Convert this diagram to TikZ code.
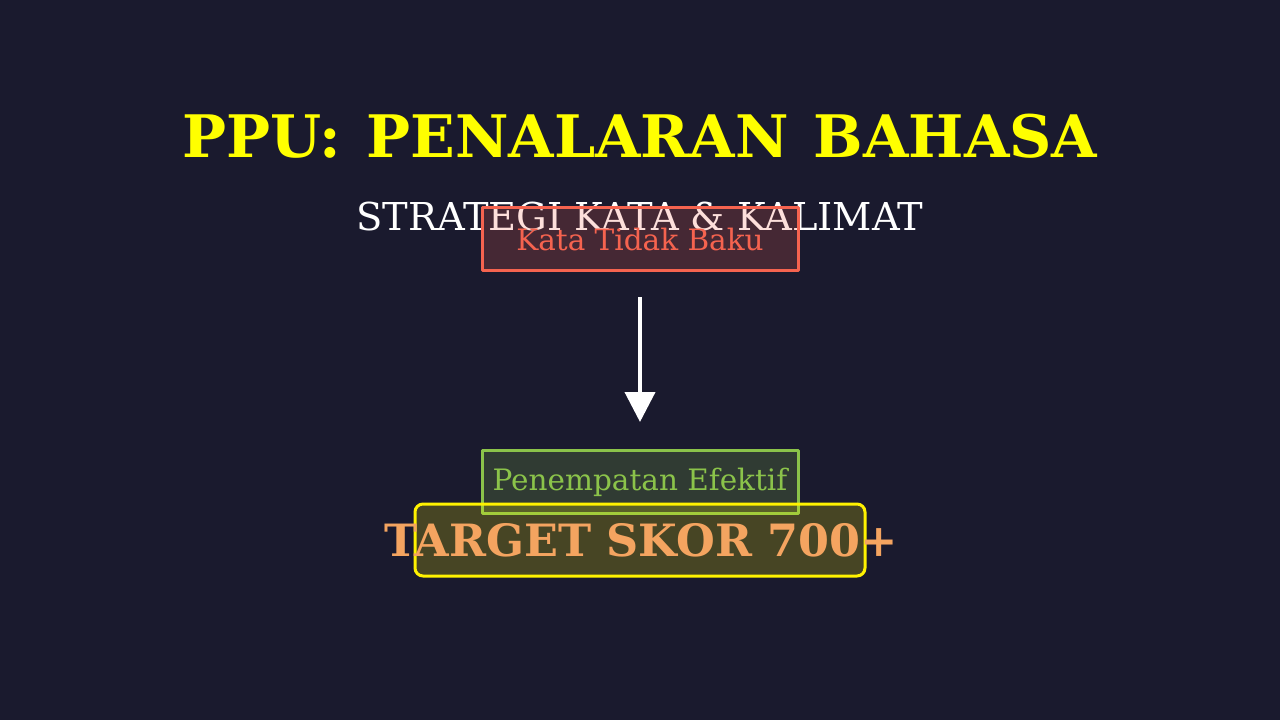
\documentclass[tikz,border=0pt]{standalone}
\usepackage{fontspec}
\setmainfont{DejaVu Serif}
\usetikzlibrary{arrows.meta}
\definecolor{bgdark}{HTML}{1A1A2E}
\definecolor{softred}{HTML}{F5634F}
\definecolor{softgreen}{HTML}{8BC34A}
\definecolor{sandy}{HTML}{F4A460}
\tikzset{
  box/.style={draw=#1, fill=#1, fill opacity=0.2, draw opacity=1, text opacity=1, line width=3pt,
    minimum width=316pt, minimum height=63pt, inner sep=0pt},
  boxtext/.style={text=#1, font=\fontsize{29.5}{34}\selectfont, anchor=base}
}
\begin{document}
\begin{tikzpicture}[x=1pt, y=-1pt, line join=round, >=stealth]
	\fill[bgdark] (0,0) rectangle (1280,720);
	\useasboundingbox (0,0) rectangle (1280,720);
	% judul
	\node[anchor=base, text={rgb,255:red,255;green,255;blue,0}, font=\fontsize{58.6}{64}\bfseries\selectfont] (title) at (640,157) {PPU:\hspace{0.43em}PENALARAN\hspace{0.43em}BAHASA};
	\node[anchor=base, text=white, font=\fontsize{38.4}{44}\selectfont] (sub) at (640,230) {STRATEGI KATA \& KALIMAT};
	% kotak
	\node[box=softred] (kata) at (640,238.5) {};
	\node[boxtext=softred] (katatxt) at (640,250) {Kata Tidak Baku};
	\coordinate (a1) at (640,297);
	\coordinate (a2) at (640,422);
	\draw[white, line width=4pt, -{Triangle[width=30pt,length=30pt]}] (a1) -- (a2);
	\node[box=softgreen] (efektif) at (640,481.5) {};
	\node[boxtext=softgreen] (efektiftxt) at (640,490) {Penempatan Efektif};
	\node[draw=yellow, fill=yellow, fill opacity=0.2, line width=3pt, rounded corners=8pt,
	  minimum width=450pt, minimum height=72pt] (skor) at (640,540) {};
	\node[anchor=base, text=sandy, font=\fontsize{44.5}{50}\bfseries\selectfont] (skortxt) at (641,556) {TARGET SKOR 700+};
\end{tikzpicture}
\end{document}
